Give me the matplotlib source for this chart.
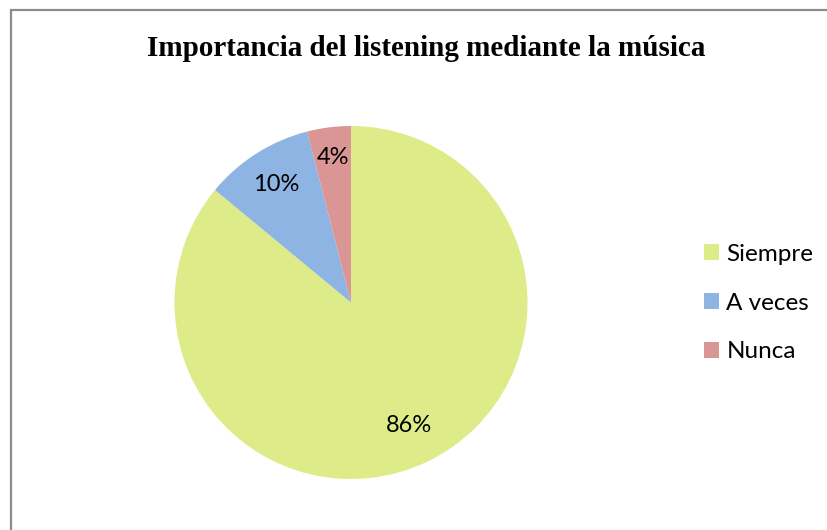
import numpy as np
import matplotlib.pyplot as plt
from matplotlib.patches import Rectangle, Patch

categorias = ['Siempre', 'A veces', 'Nunca']
porcentajes = [86, 10, 4]
colores = ['#DDEB88', '#8EB4E3', '#D99694']
titulo = 'Importancia del listening mediante la música'

W, H = 827, 530
fig = plt.figure(figsize=(W / 100, H / 100), dpi=100)

# pie centre and radius in pixels
cx, cy, r = 351, 302.5, 176.5
ax = fig.add_axes([(cx - r) / W, (H - cy - r) / H, 2 * r / W, 2 * r / H])
wedges, _ = ax.pie(porcentajes, colors=colores, startangle=90, counterclock=False,
                   radius=1, wedgeprops=dict(linewidth=0))
ax.set_xlim(-1, 1)
ax.set_ylim(-1, 1)
ax.set_aspect('equal')
ax.axis('off')

# labels placed like the original (different distance per slice)
dist = [0.77, 0.79, 0.83]
for w, p, d in zip(wedges, porcentajes, dist):
    ang = np.deg2rad((w.theta1 + w.theta2) / 2)
    ax.text(d * np.cos(ang), d * np.sin(ang), '{}%'.format(p), ha='center', va='center',
            fontsize=17, family='Lato', color='black')

fig.text(426 / W, 1 - 48 / H, titulo, ha='center', va='center', fontsize=21,
         fontweight='bold', family='Liberation Serif')

handles = [Patch(facecolor=c, edgecolor='none') for c in colores]
fig.legend(handles, categorias, loc='center left', bbox_to_anchor=(704 / W, 1 - 303 / H),
           frameon=False, prop={'family': 'Lato', 'size': 17.5}, handlelength=0.62,
           handleheight=0.62, handletextpad=0.3, labelspacing=1.15,
           borderpad=0, borderaxespad=0)

# outer border, cut at right and bottom like the screenshot
fig.patches.append(Rectangle((10.5 / W, -0.1), 1.2, 1 - 9.5 / H + 0.1, transform=fig.transFigure,
                             fill=False, edgecolor='#8c8c8c', linewidth=1.6))

fig.savefig('out.png', dpi=100, facecolor='white')
